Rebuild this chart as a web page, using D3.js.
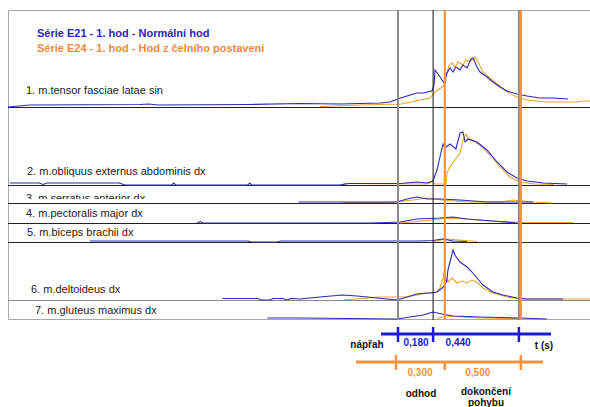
<!DOCTYPE html>
<html>
<head>
<meta charset="utf-8">
<script src="https://cdn.jsdelivr.net/npm/d3@7"></script>
<style>
  body { margin: 0; background: #fff; }
  svg { display: block; font-family: "Liberation Sans", Arial, sans-serif; }
</style>
</head>
<body>
<svg id="chart" width="590" height="407"></svg>
<script>
// series names (legend)
const seriesNames = ['Série E21 - 1. hod - Normální hod', 'Série E24 - 1. hod - Hod z čelního postavení'];

// muscles, one track each
const muscles = [
  '1. m.tensor fasciae latae sin',
  '2. m.obliquus externus abdominis dx',
  '3. m.serratus anterior dx',
  '4. m.pectoralis major dx',
  '5. m.biceps brachii dx',
  '6. m.deltoideus dx',
  '7. m.gluteus maximus dx'
];

// EMG envelopes, [time s, amplitude], E21 (blue)
const e21Traces = [
  [[0,0],[0.113,2],[0.677,2.5],[0.72,3],[0.77,2],[1.241,2.5],[1.497,3.5],[1.703,3],[1.908,4],[1.959,5],[2.010,8.7],[2.062,12],[2.097,14],[2.128,14],[2.174,16],[2.185,22],[2.190,37],[2.205,33],[2.226,27],[2.236,24],[2.251,34],[2.267,39],[2.282,35],[2.297,40],[2.318,37],[2.333,42],[2.354,39],[2.374,48],[2.385,49],[2.405,40],[2.421,35],[2.456,30],[2.487,25],[2.523,20],[2.559,16],[2.610,13],[2.662,11],[2.728,9],[2.795,9],[2.872,8]],
  [[0.01,2],[0.16,2],[0.18,0.5],[0.2,2],[0.57,2],[0.6,0],[0.84,0],[0.85,2],[0.86,0],[1.23,0],[1.24,2],[1.25,0],[1.70,0],[1.75,1.5],[1.959,1.5],[2.010,1.5],[2.097,3],[2.149,2],[2.179,4],[2.200,15],[2.215,28],[2.231,41],[2.241,37],[2.267,41],[2.297,36],[2.318,52],[2.333,53],[2.344,43],[2.359,46],[2.405,43],[2.456,35],[2.508,23],[2.559,13],[2.610,7],[2.662,4],[2.744,2],[2.867,1]],
  [[1.49,1],[1.703,1],[1.995,1],[2.046,4],[2.097,6],[2.149,4],[2.215,4],[2.318,3],[2.456,1],[2.692,1]],
  [[0.97,0],[0.985,1.5],[1.0,0],[1.866,0],[2.010,1],[2.097,4],[2.215,5],[2.282,6],[2.354,4],[2.487,2],[2.610,0]],
  [[0.42,1],[1.23,1],[1.25,0],[1.38,0],[1.40,1],[1.90,1],[2.113,1],[2.179,1.5],[2.231,3],[2.282,1],[2.354,0.5]],
  [[1.10,1.5],[1.28,1.5],[1.30,0],[1.34,0],[1.36,1.5],[1.41,1.5],[1.43,0],[1.45,1.5],[1.497,1],[1.600,3],[1.713,5],[1.790,4],[1.892,2],[1.995,0],[2.046,3],[2.097,6],[2.149,7],[2.174,7],[2.200,8],[2.226,12],[2.241,15],[2.251,20],[2.256,30],[2.272,42],[2.282,50],[2.292,45],[2.318,38],[2.354,33],[2.379,28],[2.405,22],[2.436,15],[2.487,8],[2.538,5],[2.610,2],[2.662,1],[2.846,1]],
  [[1.33,1],[1.497,1],[1.995,0],[2.062,2],[2.128,4],[2.179,7],[2.226,5],[2.282,3],[2.421,2],[2.626,1],[2.764,0]]
];

// E24 (orange)
const e24Traces = [
  [[1.60,0.5],[1.805,2],[1.959,2.7],[2.010,2.7],[2.062,4.7],[2.113,7],[2.164,9],[2.190,15],[2.226,20],[2.241,23],[2.251,34],[2.262,42],[2.277,44],[2.292,40],[2.308,45],[2.333,42],[2.349,47],[2.369,45],[2.395,50],[2.410,45],[2.436,35],[2.472,29],[2.508,23],[2.559,15],[2.610,10],[2.662,7],[2.764,5],[2.918,5],[2.949,6],[2.985,6]],
  [[1.72,1.5],[2.149,1],[2.174,3],[2.190,1],[2.246,1],[2.251,12],[2.267,18],[2.292,25],[2.318,32],[2.333,45],[2.349,51],[2.359,47],[2.385,44],[2.421,40],[2.472,30],[2.523,18],[2.574,8],[2.626,3],[2.7,1],[2.8,0.5]],
  [[1.72,0.5],[1.959,0.5],[2.077,3],[2.149,5],[2.226,3],[2.354,1],[2.523,1],[2.590,3],[2.692,1],[2.795,0]],
  [[2.010,0],[2.179,3],[2.251,5],[2.354,4],[2.5,1.5],[2.662,0.5],[2.897,0.5]],
  [[2.179,0.5],[2.251,3],[2.405,0.5]],
  [[1.72,0],[1.90,3],[2.046,3],[2.149,7],[2.200,8],[2.215,12],[2.231,22],[2.236,27],[2.246,22],[2.256,18],[2.277,22],[2.303,17],[2.328,19],[2.354,17],[2.379,20],[2.405,18],[2.436,12],[2.487,7],[2.559,3],[2.626,1],[2.985,1]],
  [[2.200,0.5],[2.251,3],[2.421,1],[2.626,0.5]]
];

// phase boundaries (s) and phase durations
const e21Events = [2.00, 2.18, 2.62];
const e24Events = [1.99, 2.24, 2.63];
const e21Durations = ['0,180', '0,440'];
const e24Durations = ['0,300', '0,500'];
const phaseNames = ['nápřah', 'odhod', 'dokončení', 'pohybu'];
const timeUnit = 't (s)';

const blueTrace = '#2b2bb0', orangeTrace = '#f2a12e';
const blueMark = '#1c1cd8', orangeMark = '#f6923f';

const svg = d3.select('#chart');
const x = d3.scaleLinear().domain([0, 3]).range([8, 593]);
const amp = d3.scaleLinear().domain([0, 60]).range([0, 60]);

// layout of the tracks (baseline y and label position)
const baselines = [107, 185, 203, 223, 242, 300, 319];
const labelPos = [[26, 94], [27, 175], [26, 201.5], [26, 217], [27, 236], [31, 293], [35, 314]];

svg.append('rect').attr('width', 590).attr('height', 407).attr('fill', '#fff');

// frame
svg.append('path')
  .attr('d', 'M591,10.5H8.5V319.5H591')
  .attr('fill', 'none').attr('stroke', '#a8a8a8').attr('stroke-width', 1);

// separators
baselines.slice(0, 6).forEach((b, i) => {
  svg.append('line')
    .attr('x1', 8).attr('x2', 590).attr('y1', b + 0.5).attr('y2', b + 0.5)
    .attr('stroke', i === 5 ? '#8a8a8a' : '#222').attr('stroke-width', 1);
});

// traces
const drawTraces = (traces, color) => {
  traces.forEach((pts, i) => {
    const base = baselines[i];
    const line = d3.line().x(d => x(d[0])).y(d => base - amp(d[1]));
    svg.append('path').datum(pts)
      .attr('d', line)
      .attr('fill', 'none').attr('stroke', color).attr('stroke-width', 1.1);
  });
};
drawTraces(e24Traces, orangeTrace);
drawTraces(e21Traces, blueTrace);

// vertical phase markers
const vline = (t, color, w) => svg.append('line')
  .attr('x1', x(t)).attr('x2', x(t)).attr('y1', 10).attr('y2', 320)
  .attr('stroke', color).attr('stroke-width', w);
vline(e21Events[0], '#8c8c8c', 2);
vline(e21Events[2], '#8c8c8c', 2);
vline(e21Events[1], '#111', 1);
vline(e24Events[1], orangeMark, 2.2);
vline(e24Events[2], orangeMark, 2.2);

// track labels (the third one is cut by the next track, as in the original)
svg.append('clipPath').attr('id', 'clip3')
  .append('rect').attr('x', 0).attr('y', 186).attr('width', 300).attr('height', 13);
muscles.forEach((m, i) => {
  svg.append('text')
    .attr('x', labelPos[i][0]).attr('y', labelPos[i][1])
    .attr('clip-path', i === 2 ? 'url(#clip3)' : null)
    .attr('font-size', 11).attr('fill', '#222')
    .text(m);
});

// legend
svg.append('text').attr('x', 37).attr('y', 37)
  .attr('font-size', 11).attr('font-weight', 'bold').attr('fill', '#2828c0')
  .text(seriesNames[0]);
svg.append('text').attr('x', 37).attr('y', 52)
  .attr('font-size', 11).attr('font-weight', 'bold').attr('fill', '#f0893e')
  .text(seriesNames[1]);

// time line E21
const tl = svg.append('g');
tl.append('line').attr('x1', 381).attr('x2', 551).attr('y1', 334).attr('y2', 334)
  .attr('stroke', blueMark).attr('stroke-width', 3);
e21Events.forEach(t => {
  tl.append('line').attr('x1', x(t)).attr('x2', x(t)).attr('y1', 327).attr('y2', 342)
    .attr('stroke', blueMark).attr('stroke-width', 2.5);
});
const boldText = (tx, ty, s, color, anchor) => tl.append('text')
  .attr('x', tx).attr('y', ty).attr('text-anchor', anchor || 'middle')
  .attr('font-size', 10).attr('font-weight', 'bold').attr('fill', color).text(s);

boldText(x(e21Events[0]) + 18, 346, e21Durations[0], blueMark);
boldText(x(e21Events[1]) + 25, 346, e21Durations[1], blueMark);
boldText(367, 348, phaseNames[0], '#111');
boldText(544, 349, timeUnit, '#111');

// time line E24
tl.append('line').attr('x1', 356).attr('x2', 543).attr('y1', 362).attr('y2', 362)
  .attr('stroke', orangeMark).attr('stroke-width', 3);
e24Events.forEach((t, i) => {
  tl.append('line').attr('x1', x(t)).attr('x2', x(t)).attr('y1', i === 1 ? 363 : 355).attr('y2', 370)
    .attr('stroke', orangeMark).attr('stroke-width', 2.5);
});
boldText(x(e24Events[0]) + 24, 376, e24Durations[0], orangeMark);
boldText(x(e24Events[1]) + 33, 376, e24Durations[1], orangeMark);
boldText(421, 397, phaseNames[1], '#111');
boldText(486, 395, phaseNames[2], '#111');
boldText(486, 406, phaseNames[3], '#111');
</script>
</body>
</html>
